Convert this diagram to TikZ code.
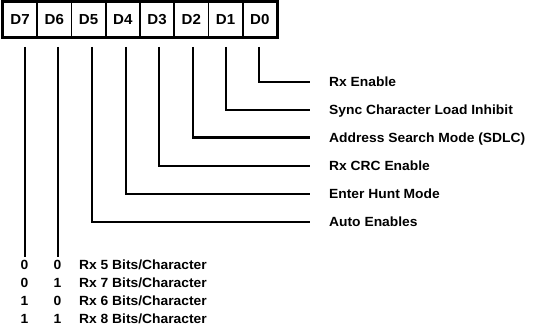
\documentclass[tikz,border=0pt]{standalone}
\usepackage{fontspec}
\setmainfont[FakeStretch=1.04]{Liberation Sans}
\begin{document}
\begin{tikzpicture}[x=1pt,y=-1pt,
  txt/.style={font=\fontsize{13.3}{16}\selectfont\bfseries},
  cell/.style={font=\fontsize{14.5}{17}\selectfont\bfseries, draw, line width=1.7pt, minimum width=34.25pt, minimum height=35pt, inner sep=0pt},
  lbl/.style={txt, anchor=west, inner sep=0pt, text height=9.5pt, text depth=0pt},
  dig/.style={txt, anchor=center, inner sep=0pt, text height=9.5pt, text depth=0pt},
  wire/.style={line width=2.3pt}]
\useasboundingbox (0,0) rectangle (542,327);
% register cells
\node[cell] (d7) at (20.125,19.5) {D7};
\node[cell] (d6) at (54.375,19.5) {D6};
\node[cell] (d5) at (88.625,19.5) {D5};
\node[cell] (d4) at (122.875,19.5) {D4};
\node[cell] (d3) at (157.125,19.5) {D3};
\node[cell] (d2) at (191.375,19.5) {D2};
\node[cell] (d1) at (225.625,19.5) {D1};
\node[cell] (d0) at (259.875,19.5) {D0};
\draw[line width=2.8pt] (d7.north west) rectangle (d0.south east);
% bit labels
\node[lbl] (l0) at (329,82) {Rx Enable};
\node[lbl] (l1) at (329,110) {Sync Character Load Inhibit};
\node[lbl] (l2) at (329,137.5) {Address Search Mode (SDLC)};
\node[lbl] (l3) at (329,166) {Rx CRC Enable};
\node[lbl] (l4) at (329,194) {Enter Hunt Mode};
\node[lbl] (l5) at (329,222) {Auto Enables};
% connectors
\draw[wire, shorten >=19pt] ([xshift=-1pt,yshift=-9pt]d0.south) |- (l0.west);
\draw[wire, shorten >=19pt] ([xshift=0.5pt,yshift=-9pt]d1.south) |- (l1.west);
\draw[wire, shorten >=19pt] ([xshift=1.6pt,yshift=-9pt]d2.south) |- (l2.west);
\draw[wire, shorten >=19pt] ([xshift=2pt,yshift=-9pt]d3.south) |- (l3.west);
\draw[wire, shorten >=19pt] ([xshift=3pt,yshift=-9pt]d4.south) |- (l4.west);
\draw[wire, shorten >=19pt] ([xshift=3.4pt,yshift=-9pt]d5.south) |- (l5.west);
% truth table
\node[dig] (a0) at (24.5,265) {0};
\node[dig] (b0) at (57.5,265) {0};
\node[lbl] (t0) at (79,265) {Rx 5 Bits/Character};
\node[dig] (a1) at (24.5,283) {0};
\node[dig] (b1) at (57.5,283) {1};
\node[lbl] (t1) at (79,283) {Rx 7 Bits/Character};
\node[dig] (a2) at (24.5,301) {1};
\node[dig] (b2) at (57.5,301) {0};
\node[lbl] (t2) at (79,301) {Rx 6 Bits/Character};
\node[dig] (a3) at (24.5,318.5) {1};
\node[dig] (b3) at (57.5,318.5) {1};
\node[lbl] (t3) at (79,318.5) {Rx 8 Bits/Character};
\draw[wire, shorten >=12pt] ([xshift=4.9pt,yshift=-9pt]d7.south) -- ([xshift=4.9pt,yshift=-9pt]d7.south |- a0.north);
\draw[wire, shorten >=12pt] ([xshift=3.6pt,yshift=-9pt]d6.south) -- ([xshift=3.6pt,yshift=-9pt]d6.south |- b0.north);
\end{tikzpicture}
\end{document}
